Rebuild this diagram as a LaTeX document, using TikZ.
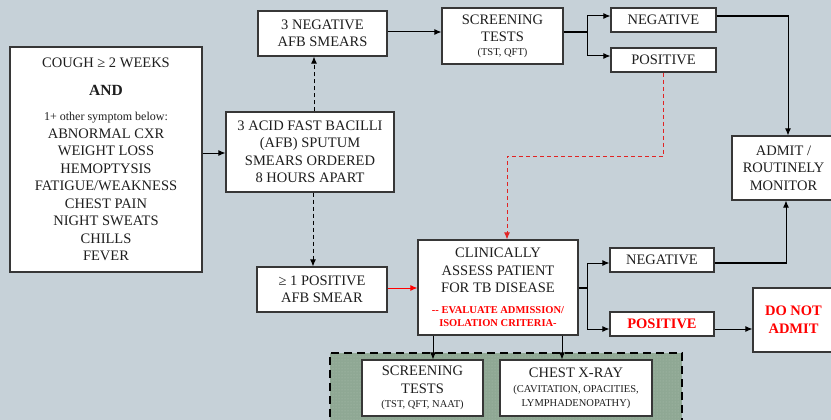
\documentclass[tikz,border=0pt]{standalone}
\usepackage{fontspec}
\setmainfont{Liberation Serif}
\usetikzlibrary{arrows.meta,patterns}
\definecolor{bg}{RGB}{198,209,216}
\definecolor{grn}{RGB}{143,168,148}
\definecolor{grndot}{RGB}{172,192,175}
\definecolor{bx}{RGB}{55,55,55}
\definecolor{rd}{RGB}{255,0,0}
\definecolor{rdash}{RGB}{225,35,35}
\definecolor{txt}{RGB}{30,30,30}
\newcommand\smalltx[1]{{\fontsize{10.5}{12}\selectfont #1}}
\tikzset{
  box/.style={draw=bx, line width=1.1pt, fill=white, inner sep=0pt, align=center,
    text=txt, font=\fontsize{14.5}{17.5}\selectfont},
  arr/.style={draw=black, line width=1pt, -{Latex[length=7pt,width=6pt]}},
  darr/.style={arr, dash pattern=on 4pt off 3pt},
  rarr/.style={draw=rd, line width=1pt, -{Latex[length=7pt,width=6pt]}},
  rdarr/.style={draw=rdash, line width=1pt, dash pattern=on 4pt off 3pt, -{Latex[length=7pt,width=6pt]}},
  thk/.style={draw=black, line width=1.8pt},
}
\begin{document}
\begin{tikzpicture}[x=1pt,y=-1pt]
\clip (0,0) rectangle (831,420);
\useasboundingbox (0,0) rectangle (831,420);
\fill[bg] (0,0) rectangle (831,420);

% green region
\fill[grn] (330,353) rectangle (682,430);
\fill[pattern=dots, pattern color=grndot] (330,353) rectangle (682,430);
\draw[black, line width=2pt, dash pattern=on 8pt off 5pt] (330,430) -- (330,353) -- (682,353) -- (682,430);

% nodes
\node[box, minimum width=192pt, minimum height=225pt] (cough) at (106,159.5)
 {COUGH ≥ 2 WEEKS\\[10.5pt]
  {\bfseries\fontsize{15.5}{17.5}\selectfont AND}\\[7.5pt]
  {\fontsize{12}{14}\selectfont 1+ other symptom below:}\\[0.5pt]
  ABNORMAL CXR\\WEIGHT LOSS\\HEMOPTYSIS\\FATIGUE/WEAKNESS\\CHEST PAIN\\NIGHT SWEATS\\CHILLS\\FEVER};
\node[box, minimum width=168pt, minimum height=80pt] (acid) at (310,152)
 {3 ACID FAST BACILLI\\(AFB) SPUTUM\\SMEARS ORDERED\\8 HOURS APART};
\node[box, minimum width=129pt, minimum height=45pt] (neg3) at (322.5,33.5)
 {3 NEGATIVE\\AFB SMEARS};
\node[box, minimum width=121pt, minimum height=56pt] (scr1) at (502.5,36)
 {SCREENING\\TESTS\\[-4pt]\smalltx{(TST, QFT)}};
\node[box, minimum width=105pt, minimum height=24pt] (negT) at (663.5,20) {NEGATIVE};
\node[box, minimum width=105pt, minimum height=24pt] (posT) at (663.5,60) {POSITIVE};
\node[box, minimum width=103pt, minimum height=64pt] (admit) at (783.5,168)
 {ADMIT /\\ROUTINELY\\MONITOR};
\node[box, minimum width=130pt, minimum height=45pt] (pos1) at (322,289.5)
 {≥ 1 POSITIVE\\AFB SMEAR};
\node[box, minimum width=160pt, minimum height=95pt] (clin) at (498,287.5)
 {CLINICALLY\\ASSESS PATIENT\\FOR TB DISEASE\\[3.5pt]
  {\color{rd}\bfseries\fontsize{10.5}{13}\selectfont -{}- EVALUATE ADMISSION/}\\[-4.5pt]
  {\color{rd}\bfseries\fontsize{10.5}{13}\selectfont ISOLATION CRITERIA-}};
\node[box, minimum width=104pt, minimum height=24pt] (negB) at (662,260) {NEGATIVE};
\node[box, minimum width=104pt, minimum height=24pt, text=rd, font=\bfseries\fontsize{14.5}{17.5}\selectfont] (posB) at (662,324) {POSITIVE};
\node[box, minimum width=81pt, minimum height=64pt, text=rd, font=\bfseries\fontsize{14.5}{18}\selectfont] (dna) at (793.5,320) {DO NOT\\ADMIT};
\node[box, minimum width=121pt, minimum height=56pt] (scr2) at (422.5,388)
 {SCREENING\\TESTS\\[-3.5pt]\smalltx{(TST, QFT, NAAT)}};
\node[box, minimum width=152pt, minimum height=56pt] (cxr) at (576,388)
 {CHEST X-RAY\\[-2.5pt]\smalltx{(CAVITATION, OPACITIES,}\\[-3.5pt]\smalltx{LYMPHADENOPATHY)}};

% helper coordinates
\coordinate (s1) at (587,32);
\coordinate (s2) at (587,288);
\coordinate (rt) at (507,156);

% connectors
\draw[arr] (cough.east |- 0,153) -- (acid.west |- 0,153);
\draw[darr] ([xshift=4pt]acid.north) -- ([xshift=4pt]acid.north |- neg3.south);
\draw[darr] ([xshift=3pt]acid.south) -- ([xshift=3pt]acid.south |- pos1.north);
\draw[arr] (neg3.east |- s1) -- (scr1.west |- s1);
\draw[thk] (scr1.east |- s1) -- (s1);
\draw[arr] (s1) |- ([yshift=4pt]negT.west);
\draw[arr] (s1) |- ([yshift=4pt]posT.west);
\draw[arr] ([yshift=4pt]negT.east) -| ([xshift=4.5pt]admit.north);
\draw[thk, line width=1.6pt] ([yshift=4pt]negT.east) -- ([yshift=4pt]negT.east -| 788,0);
\draw[rdarr] (posT.south) |- (rt) -- (rt |- clin.north);
\draw[rarr] (pos1.east |- s2) -- (clin.west |- s2);
\draw[thk] (clin.east |- s2) -- (s2);
\draw[arr] (s2) |- ([yshift=-3pt]negB.west);
\draw[arr] (s2) |- ([yshift=-5pt]posB.west);
\draw[arr] ([yshift=-3pt]negB.east) -| ([xshift=2.5pt]admit.south);
\draw[thk, line width=1.6pt] ([yshift=-3pt]negB.east) -- ([yshift=-3pt]negB.east -| 786,0);
\draw[arr] ([yshift=-5pt]posB.east) -- ([yshift=-5pt]posB.east -| dna.west);
\draw[arr] (clin.south -| 433,0) -- (scr2.north -| 433,0);
\draw[arr] (clin.south -| 562,0) -- (cxr.north -| 562,0);
\end{tikzpicture}
\end{document}
